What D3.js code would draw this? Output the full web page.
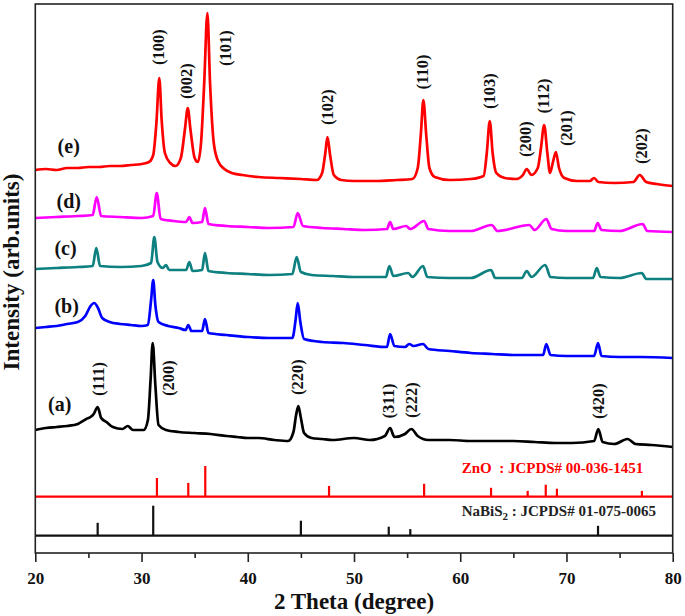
<!DOCTYPE html>
<html>
<head>
<meta charset="utf-8">
<script src="https://cdn.jsdelivr.net/npm/d3@7"></script>
<style>
  body { margin: 0; background: #fff; }
  text { font-family: "Liberation Serif", "Times New Roman", serif; font-weight: bold; }
</style>
</head>
<body>
<div id="vis"></div>
<script>
const width = 685;
const height = 616;

// measured XRD traces, [2theta, intensity (arb. units, stacked)]
const traceE = [[20,383],[21,384],[22,383],[23,385],[24,385],[25,386],[26,386],[27,387],[28,387],[29,388],[30,389],[30.7,391],[31.1,398],[31.4,430],[31.67,475],[31.9,432],[32.2,400],[32.7,390],[33.2,387],[33.7,395],[34.1,425],[34.35,445],[34.6,424],[35.0,395],[35.3,391],[35.6,410],[35.9,470],[36.2,540],[36.45,470],[36.8,410],[37.2,392],[37.8,384],[38.5,380],[39.5,378],[41,376],[43,375],[45,374],[46.5,373],[47.0,380],[47.3,400],[47.5,416],[47.75,398],[48.1,378],[48.8,373],[50,372],[52,372],[54,373],[55.5,374],[56.0,385],[56.3,420],[56.53,453],[56.8,418],[57.1,385],[57.6,376],[59,373],[61,374],[62.2,377],[62.5,400],[62.78,432],[63.05,400],[63.4,380],[64.2,375],[65.3,374],[65.9,378],[66.26,384],[66.7,378],[67.3,385],[67.6,405],[67.9,428],[68.2,400],[68.45,380],[68.75,392],[69.0,401],[69.3,385],[69.8,375],[71,372],[72.2,372],[72.6,375],[73,371],[74.5,370],[76.3,371],[76.9,378],[77.5,371],[78.5,369],[80,367]];
const traceD = [[20,335],[22,336],[24,337],[25.4,338],[25.78,356],[26.2,337],[28,336],[30,335],[31.1,337],[31.43,360],[31.8,334],[33,332],[34.2,331],[34.5,336],[34.8,330],[35.7,331],[35.97,345],[36.3,329],[38,327],[40,326],[42,325],[44.3,326],[44.7,340],[45.2,327],[47,325],[49,324],[51,323],[53.1,324],[53.4,331],[53.7,324],[54.9,327],[55.3,324],[56.6,332],[57.0,324],[59,322],[61,322],[62.96,328],[63.5,322],[66.5,328],[67.0,323],[68.1,334],[68.6,324],[70,322],[72.6,322],[72.94,330],[73.3,323],[75,322],[77.18,329],[77.6,322],[80,321]];
const traceC = [[20,284],[22,285],[24,286],[25.4,287],[25.74,305],[26.1,287],[28,286],[30,287],[30.9,290],[31.2,316],[31.5,291],[32.0,285],[32.3,288],[32.6,283],[34.2,283],[34.5,291],[34.8,282],[35.7,283],[35.97,300],[36.3,282],[38,280],[40,279],[42,278],[44.2,279],[44.6,296],[45.0,281],[46,278],[48,277],[50,276],[53.0,276],[53.33,287],[53.7,277],[55.1,280],[55.5,276],[56.5,287],[56.9,276],[59,275],[61,275],[62.9,283],[63.3,275],[65.8,275],[66.26,282],[66.7,276],[68.0,288],[68.5,276],[70,275],[72.5,275],[72.85,285],[73.2,276],[75,275],[77.1,280],[77.5,274],[80,274]];
const traceB = [[20,225],[21,226],[22,227],[23,229],[24,231],[24.7,237],[25.2,247],[25.55,250],[25.9,245],[26.3,235],[27,231],[28,229],[29,228],[30,227],[30.6,228],[30.9,253],[31.1,273],[31.3,248],[31.6,231],[32.5,227],[33.5,225],[34.15,223],[34.4,228],[34.7,222],[35.7,222],[35.97,234],[36.3,220],[38,218],[40,216],[42,215],[44.2,215],[44.5,233],[44.7,250],[44.95,231],[45.3,214],[47,211],[49,210],[51,208],[53.1,206],[53.4,219],[53.8,207],[54.8,206],[55.2,209],[55.6,207],[56.5,209],[57.0,204],[59,202],[61,200],[63,199],[65,198],[67.8,198],[68.1,209],[68.5,198],[70,197],[72.6,197],[72.97,210],[73.3,197],[75,196],[77,196],[80,195]];
const traceA = [[20,123],[21,125],[22,126],[23,127],[24,129],[24.8,134],[25.2,136],[25.5,139],[25.87,146],[26.2,135],[26.7,131],[27.3,126],[28.2,124],[28.7,127],[29.2,123],[30.2,123],[30.6,133],[30.85,173],[31.05,210],[31.3,168],[31.6,128],[32.3,123],[33.5,121],[35,120],[36.5,119],[38,117],[39,116],[40,115],[41,115],[42.5,113],[43.8,112],[44.3,121],[44.55,138],[44.76,147],[45.0,135],[45.3,120],[46,115],[47,114],[48,113],[50,115],[51.5,113],[52.9,117],[53.4,125],[53.8,116],[54.8,119],[55.4,124],[56.0,117],[57,113],[59,113],[61,112],[63,112],[65,112],[67,111],[69,110],[70.5,110],[72.6,112],[73.0,124],[73.4,111],[74.5,109],[75.75,114],[76.5,109],[78,108],[80,106]];

const traceNames = ["(e)", "(d)", "(c)", "(b)", "(a)"];
const traceColors = ["#ff0000", "#ff00ff", "#0e8080", "#0000ff", "#000000"];
const traceLabelY = [407, 352, 305, 247, 149];
const traceLabelX = [22.1, 22.0, 21.8, 21.8, 21.2];

// peak indices
const hklE = ["(100)", "(002)", "(101)", "(102)", "(110)", "(103)", "(200)", "(112)", "(201)", "(202)"];
const hklEPos = [31.58, 34.25, 37.86, 47.55, 56.47, 62.71, 66.10, 67.82, 69.96, 77.02];
const hklEY = [506, 472, 505, 446, 481, 462, 414, 457, 425, 407];
const hklA = ["(111)", "(200)", "(220)", "(311)", "(222)", "(420)"];
const hklAPos = [25.93, 32.52, 44.70, 53.23, 55.37, 72.97];
const hklAY = [174, 175, 176, 152, 153, 152];

// reference patterns (relative intensity)
const znoPos = [31.45, 34.4, 36.0, 47.65, 56.6, 62.9, 66.35, 68.05, 69.1, 77.1];
const znoInt = [61, 45, 100, 35, 42, 29, 19, 39, 26, 19];
const nabisPos = [25.87, 31.1, 45.0, 53.27, 55.3, 72.97];
const nabisInt = [43, 100, 50, 30, 22, 33];

const xTicks = [20, 30, 40, 50, 60, 70, 80];
const xMinorTicks = [25, 35, 45, 55, 65, 75];

const svg = d3.select("#vis").append("svg")
    .attr("width", width)
    .attr("height", height);

const x = d3.scaleLinear().domain([20, 80]).range([35.3, 672.7]);
const y = d3.scaleLinear().domain([0, 549]).range([553, 4]);
const yZno = d3.scaleLinear().domain([0, 100]).range([496.7, 466]);
const yNabis = d3.scaleLinear().domain([0, 100]).range([535.7, 505.7]);

const line = d3.line()
    .x(d => x(d[0]))
    .y(d => y(d[1]))
    .curve(d3.curveMonotoneX);

[traceE, traceD, traceC, traceB, traceA].forEach((tr, i) => {
    svg.append("path")
        .datum(tr)
        .attr("fill", "none")
        .attr("stroke", traceColors[i])
        .attr("stroke-width", 2.7)
        .attr("stroke-linejoin", "round")
        .attr("d", line);

    svg.append("text")
        .attr("x", x(traceLabelX[i]))
        .attr("y", y(traceLabelY[i]))
        .attr("dominant-baseline", "central")
        .style("font-size", "20px")
        .attr("fill", "#111")
        .text(traceNames[i]);
});

function hklLabels(names, pos, ys) {
    svg.selectAll(null)
        .data(names)
        .enter().append("text")
        .attr("transform", (d, i) => `translate(${x(pos[i])},${y(ys[i])}) rotate(-90)`)
        .attr("text-anchor", "middle")
        .attr("dominant-baseline", "central")
        .style("font-size", "16.5px")
        .attr("fill", "#111")
        .text(d => d);
}
hklLabels(hklE, hklEPos, hklEY);
hklLabels(hklA, hklAPos, hklAY);

// ZnO stick pattern
svg.append("line")
    .attr("x1", x(20)).attr("x2", x(80))
    .attr("y1", yZno(0)).attr("y2", yZno(0))
    .attr("stroke", "#ff0000").attr("stroke-width", 2.2);
svg.selectAll(".zno")
    .data(znoPos)
    .enter().append("line")
    .attr("class", "zno")
    .attr("x1", d => x(d)).attr("x2", d => x(d))
    .attr("y1", yZno(0)).attr("y2", (d, i) => yZno(znoInt[i]))
    .attr("stroke", "#ff0000").attr("stroke-width", 2.2);
svg.append("text")
    .attr("x", 461.7).attr("y", 473)
    .attr("fill", "#ff0000")
    .style("font-size", "15px")
    .style("white-space", "pre")
    .text("ZnO  : JCPDS# 00-036-1451");

// NaBiS2 stick pattern
svg.append("line")
    .attr("x1", x(20)).attr("x2", x(80))
    .attr("y1", yNabis(0)).attr("y2", yNabis(0))
    .attr("stroke", "#111").attr("stroke-width", 2.2);
svg.selectAll(".nabis")
    .data(nabisPos)
    .enter().append("line")
    .attr("class", "nabis")
    .attr("x1", d => x(d)).attr("x2", d => x(d))
    .attr("y1", yNabis(0)).attr("y2", (d, i) => yNabis(nabisInt[i]))
    .attr("stroke", "#111").attr("stroke-width", 2.2);
const nt = svg.append("text")
    .attr("x", 461.7).attr("y", 516)
    .attr("fill", "#222")
    .style("font-size", "15px");
nt.append("tspan").text("NaBiS");
nt.append("tspan").attr("dy", 4).style("font-size", "11px").text("2");
nt.append("tspan").attr("dy", -4).text(" : JCPDS# 01-075-0065");

// frame
svg.append("rect")
    .attr("x", x(20)).attr("y", y(549))
    .attr("width", x(80) - x(20))
    .attr("height", y(0) - y(549))
    .attr("fill", "none")
    .attr("stroke", "#222")
    .attr("stroke-width", 1.6);

// x axis
const xAxis = svg.append("g")
    .attr("transform", `translate(0,${y(0)})`)
    .call(d3.axisBottom(x).tickValues(xTicks).tickSize(9).tickFormat(d3.format("d")));
xAxis.select(".domain").remove();
xAxis.selectAll("line").attr("stroke", "#222").attr("stroke-width", 1.6);
xAxis.selectAll("text")
    .attr("y", 25).attr("dy", "0.35em")
    .attr("fill", "#111")
    .style("font-size", "17px");

const xMinor = svg.append("g")
    .attr("transform", `translate(0,${y(0)})`)
    .call(d3.axisBottom(x).tickValues(xMinorTicks).tickSize(5).tickFormat(""));
xMinor.select(".domain").remove();
xMinor.selectAll("line").attr("stroke", "#222").attr("stroke-width", 1.6);

svg.append("text")
    .attr("x", (x(20) + x(80)) / 2)
    .attr("y", 601)
    .attr("text-anchor", "middle")
    .attr("dominant-baseline", "central")
    .attr("fill", "#111")
    .style("font-size", "23px")
    .text("2 Theta (degree)");

svg.append("text")
    .attr("transform", "translate(11,272) rotate(-90)")
    .attr("text-anchor", "middle")
    .attr("dominant-baseline", "central")
    .attr("fill", "#111")
    .style("font-size", "23px")
    .text("Intensity (arb.units)");
</script>
</body>
</html>
